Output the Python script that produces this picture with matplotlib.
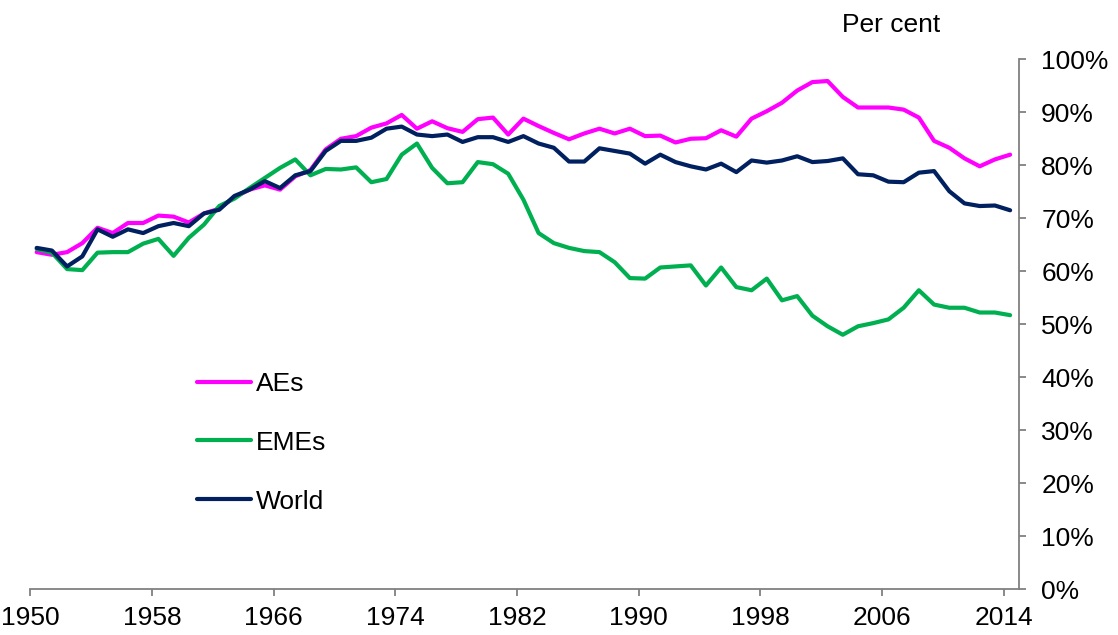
import numpy as np
import matplotlib
matplotlib.use("Agg")
import matplotlib.pyplot as plt

years = np.arange(1950, 2015)

aes = [63.6, 63.1, 63.6, 65.3, 68.2, 67.2, 69.1, 69.1, 70.5, 70.3,
       69.2, 70.9, 71.8, 74.0, 75.4, 76.2, 75.4, 77.9, 79.1, 83.0,
       85.0, 85.5, 87.1, 87.9, 89.5, 86.9, 88.3, 87.0, 86.3, 88.7,
       89.0, 85.8, 88.8, 87.4, 86.1, 84.9, 86.0, 86.9, 86.0, 86.9,
       85.5, 85.6, 84.3, 85.0, 85.1, 86.6, 85.4, 88.8, 90.2, 91.8,
       94.1, 95.7, 95.9, 92.9, 90.9, 90.9, 90.9, 90.5, 89.0, 84.6,
       83.3, 81.3, 79.8, 81.1, 82.0]

emes = [64.2, 63.5, 60.4, 60.2, 63.5, 63.6, 63.6, 65.2, 66.1, 62.9,
        66.3, 68.8, 72.3, 73.7, 75.7, 77.6, 79.5, 81.1, 78.1, 79.3,
        79.2, 79.6, 76.8, 77.4, 82.0, 84.1, 79.5, 76.6, 76.8, 80.6,
        80.2, 78.4, 73.5, 67.2, 65.3, 64.4, 63.8, 63.6, 61.7, 58.7,
        58.6, 60.7, 60.9, 61.1, 57.3, 60.7, 57.0, 56.4, 58.6, 54.5,
        55.3, 51.6, 49.6, 48.0, 49.6, 50.2, 50.9, 53.1, 56.4, 53.7,
        53.1, 53.1, 52.2, 52.2, 51.7]

world = [64.4, 63.9, 60.9, 62.8, 67.9, 66.5, 67.9, 67.2, 68.5, 69.1,
         68.5, 70.9, 71.6, 74.2, 75.4, 77.0, 75.7, 78.1, 78.9, 82.7,
         84.6, 84.6, 85.2, 86.9, 87.3, 85.8, 85.5, 85.8, 84.4, 85.3,
         85.3, 84.4, 85.5, 84.1, 83.3, 80.7, 80.7, 83.2, 82.7, 82.2,
         80.3, 82.0, 80.6, 79.8, 79.2, 80.3, 78.7, 80.9, 80.5, 80.9,
         81.7, 80.6, 80.8, 81.3, 78.3, 78.1, 76.9, 76.8, 78.6, 78.9,
         75.1, 72.8, 72.3, 72.4, 71.5]

tick_years = list(range(1950, 2015, 8))
y_ticks = list(range(0, 101, 10))

plt.rcParams['font.family'] = ['Liberation Sans', 'DejaVu Sans']

fig = plt.figure(figsize=(11.18, 6.35), dpi=100)
ax = fig.add_axes([0.0271, 0.0724, 0.8843, 0.8342])

x = years + 0.42
ax.plot(x, aes, color='#FF00FF', lw=3, label='AEs', solid_capstyle='round')
ax.plot(x, emes, color='#00B050', lw=3, label='EMEs', solid_capstyle='round')
ax.plot(x, world, color='#002060', lw=3, label='World', solid_capstyle='round')

ax.set_xlim(1950, 2015)
ax.set_ylim(0, 100)
ax.set_xticks(tick_years)
ax.set_xticklabels([str(t) for t in tick_years])
ax.set_yticks(y_ticks)
ax.set_yticklabels([f"{v}%" for v in y_ticks])

ax.yaxis.tick_right()
for s in ['top', 'left']:
    ax.spines[s].set_visible(False)
for s in ['bottom', 'right']:
    ax.spines[s].set_color('#808080')
    ax.spines[s].set_linewidth(1.3)
ax.tick_params(axis='both', colors='#808080', labelcolor='black',
               labelsize=19, length=5, width=1.3)
ax.tick_params(axis='x', pad=7)
ax.tick_params(axis='y', pad=11)

ax.legend(loc='upper left', bbox_to_anchor=(0.1686, 0.410), frameon=False,
          fontsize=19, handlelength=2.05, handletextpad=0.2,
          labelspacing=1.32, borderpad=0, borderaxespad=0)

fig.text(0.797, 0.960, 'Per cent', ha='center', va='center', fontsize=19)

fig.savefig('out.png', dpi=100)
